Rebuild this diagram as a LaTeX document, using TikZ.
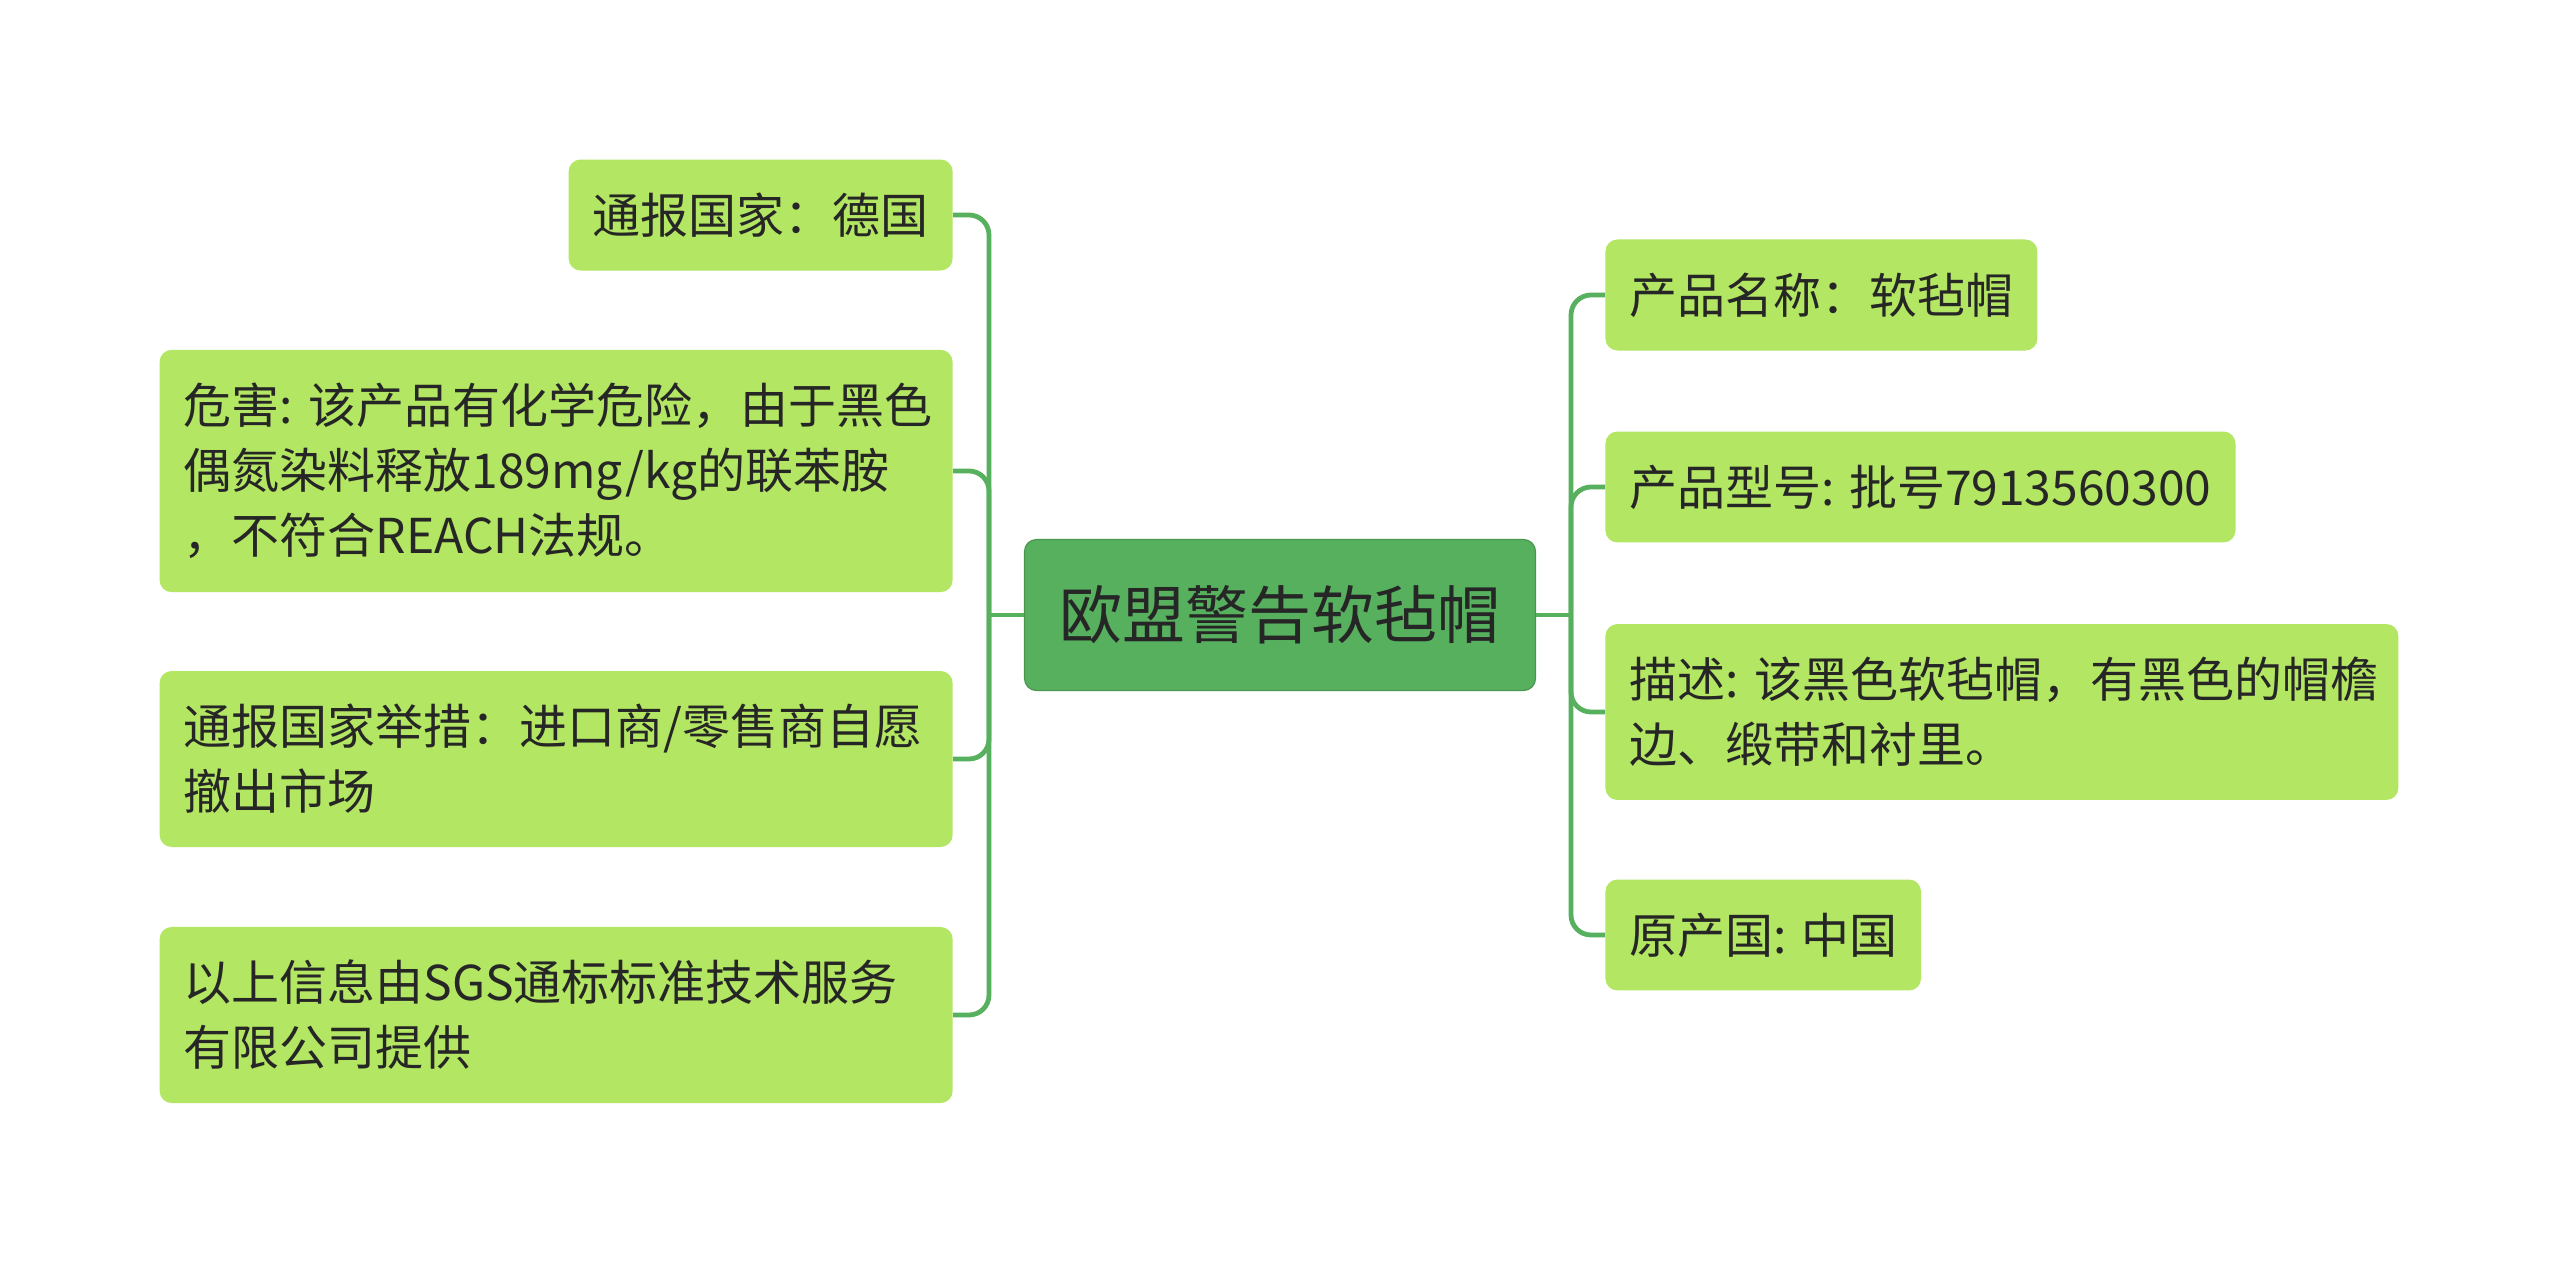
\documentclass[tikz,border=0pt]{standalone}
\usepackage{fontspec}
\setmainfont{Noto Sans CJK SC}
\usetikzlibrary{positioning}
\definecolor{ewgreen}{RGB}{86,176,94}
\definecolor{ewlight}{RGB}{179,230,98}
\definecolor{ewtext}{RGB}{38,38,38}
\tikzset{
  ewroot/.style={fill=ewgreen, draw=ewgreen!85!black, line width=.6pt, rounded corners=6pt, text=ewtext, font=\fontsize{31.5}{38}\selectfont, minimum width=255.5pt, minimum height=75.5pt},
  ewbox/.style={fill=ewlight, rounded corners=6pt, text=ewtext, font=\fontsize{24}{32.5}\selectfont, align=left, inner xsep=12pt, inner ysep=16.6pt},
  ewwide/.style={ewbox, text width=372.5pt},
  ewline/.style={draw=ewgreen, line width=2.4pt, rounded corners=10pt}
}
\begin{document}
\begin{tikzpicture}[x=.5pt, y=-.5pt]
  \useasboundingbox (0,0) rectangle (2560,1264);
  \node[ewroot] (root) at (1280,615) {欧盟警告软毡帽};
  \coordinate (ltrunk) at (989,615);
  \coordinate (rtrunk) at (1571,615);
  \node[ewbox, anchor=east] (notify) at (953,215) {通报国家：德国};
  \node[ewwide, anchor=east] (hazard) at (953,471) {危害:~该产品有化学危险，由于黑色\\偶氮染料释放189mg/kg的联苯胺\\，不符合REACH法规。};
  \node[ewwide, anchor=east] (measure) at (953,759) {通报国家举措：进口商/零售商自愿\\撤出市场};
  \node[ewwide, anchor=east] (source) at (953,1015) {以上信息由SGS通标标准技术服务\\有限公司提供};
  \node[ewbox, anchor=west] (name) at (1605,295) {产品名称：软毡帽};
  \node[ewbox, anchor=west] (model) at (1605,487) {产品型号: 批号7913560300};
  \node[ewwide, anchor=west] (desc) at (1605,712) {描述:~该黑色软毡帽，有黑色的帽檐\\边、缎带和衬里。};
  \node[ewbox, anchor=west] (origin) at (1605,935) {原产国: 中国};
  \draw[ewline] (root.west) -- (ltrunk);
  \draw[ewline] (root.east) -- (rtrunk);
  \foreach \leaf in {notify,hazard,measure,source}
    \draw[ewline] (ltrunk) |- (\leaf.east);
  \foreach \leaf in {name,model,desc,origin}
    \draw[ewline] (rtrunk) |- (\leaf.west);
\end{tikzpicture}
\end{document}
